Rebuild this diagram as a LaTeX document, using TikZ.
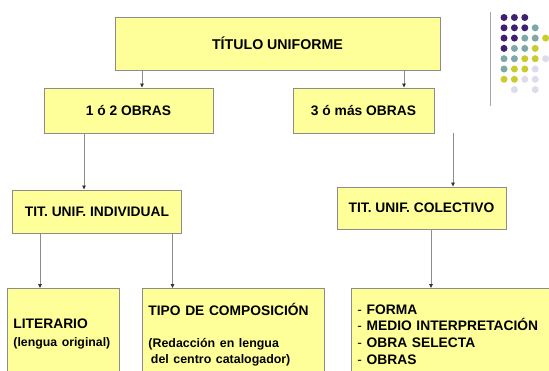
\documentclass[tikz,border=0pt]{standalone}
\usepackage{fontspec}
\setmainfont{Liberation Sans}
\usetikzlibrary{arrows.meta}
\definecolor{boxfill}{HTML}{FFFF99}
\definecolor{boxline}{HTML}{8C8C8C}
\definecolor{conn}{HTML}{8C8C8C}
\definecolor{dotA}{HTML}{3F2070}
\definecolor{dotB}{HTML}{7CA8A7}
\definecolor{dotC}{HTML}{C9CC2C}
\definecolor{dotD}{HTML}{DCDCEE}
\begin{document}
\begin{tikzpicture}[x=1pt,y=-1pt,
  box/.style={draw=boxline, fill=boxfill, line width=0.9pt, inner sep=0pt,
    font=\bfseries\fontsize{13.8}{16}\selectfont},
  lowbox/.style={box, anchor=north west, align=left, minimum height=92pt},
  arr/.style={draw=conn, line width=0.8pt, -{Triangle[length=4pt,width=3.5pt,color=black!80,fill=black!80]}},
]
\useasboundingbox (0,0) rectangle (549,370);
\fill[white] (0,0) rectangle (549,370);

% decoration
\draw[gray!70, line width=0.9pt] (490,12) -- (490,106);
\foreach \c/\r/\col in {0/0/dotA,1/0/dotA,2/0/dotA,
  0/1/dotA,1/1/dotA,2/1/dotA,3/1/dotB,
  0/2/dotA,1/2/dotA,2/2/dotB,3/2/dotB,4/2/dotC,
  0/3/dotA,1/3/dotB,2/3/dotB,3/3/dotC,
  0/4/dotB,1/4/dotB,2/4/dotC,3/4/dotC,4/4/dotD,
  0/5/dotB,1/5/dotC,2/5/dotC,3/5/dotD,
  0/6/dotC,1/6/dotC,2/6/dotD,3/6/dotD,
  1/7/dotD,3/7/dotD}
  \fill[\col] ({504+10.4*\c},{17.5+10.3*\r}) circle (3.5);

% boxes
\node[box, minimum width=325pt, minimum height=53pt, font=\bfseries\fontsize{14.2}{16}\selectfont] (title) at (277.5,43.5) {TÍTULO UNIFORME};
\node[box, minimum width=169pt, minimum height=45pt] (n1) at (128.5,110.5) {1 ó 2 OBRAS};
\node[box, minimum width=141pt, minimum height=45pt] (n2) at (363.5,110.5) {3 ó más OBRAS};
\node[box, minimum width=169pt, minimum height=43pt] (ind) at (97,211.5) {TIT. UNIF. INDIVIDUAL};
\node[box, minimum width=169pt, minimum height=42pt] (col) at (421.5,208) {TIT. UNIF. COLECTIVO};

\node[lowbox, minimum width=112pt, text width=100pt] (lit) at (7,288)
  {LITERARIO\\[2pt]\fontsize{12.3}{15}\selectfont (lengua original)};
\node[lowbox, minimum width=182pt, text width=170pt] (tipo) at (142,288)
  {TIPO DE COMPOSICIÓN\\[17pt]\fontsize{12.4}{14.5}\selectfont (Redacción en lengua\\\hspace*{2.5pt}del centro catalogador)};
\node[lowbox, minimum width=222pt, text width=210pt, font=\bfseries\fontsize{13.8}{16.6}\selectfont] (lst) at (351,288)
  {{\mdseries -} FORMA\\{\mdseries -} MEDIO INTERPRETACIÓN\\{\mdseries -} OBRA SELECTA\\{\mdseries -} OBRAS};

% connector columns
\coordinate (c1) at (142,0);
\coordinate (c2) at (404,0);
\coordinate (c3) at (84,0);
\coordinate (c4) at (453,0);
\coordinate (c5) at (40,0);
\coordinate (c6) at (172.5,0);
\coordinate (c7) at (431,0);

\draw[arr] (title.south -| c1) -- (n1.north -| c1);
\draw[arr] (title.south -| c2) -- (n2.north -| c2);
\draw[arr] (n1.south -| c3) -- (ind.north -| c3);
\draw[arr] (n2.south -| c4) -- (col.north -| c4);
\draw[arr] (ind.south -| c5) -- (lit.north -| c5);
\draw[arr] (ind.south -| c6) -- (tipo.north -| c6);
\draw[arr] (col.south -| c7) -- (lst.north -| c7);
\end{tikzpicture}
\end{document}
